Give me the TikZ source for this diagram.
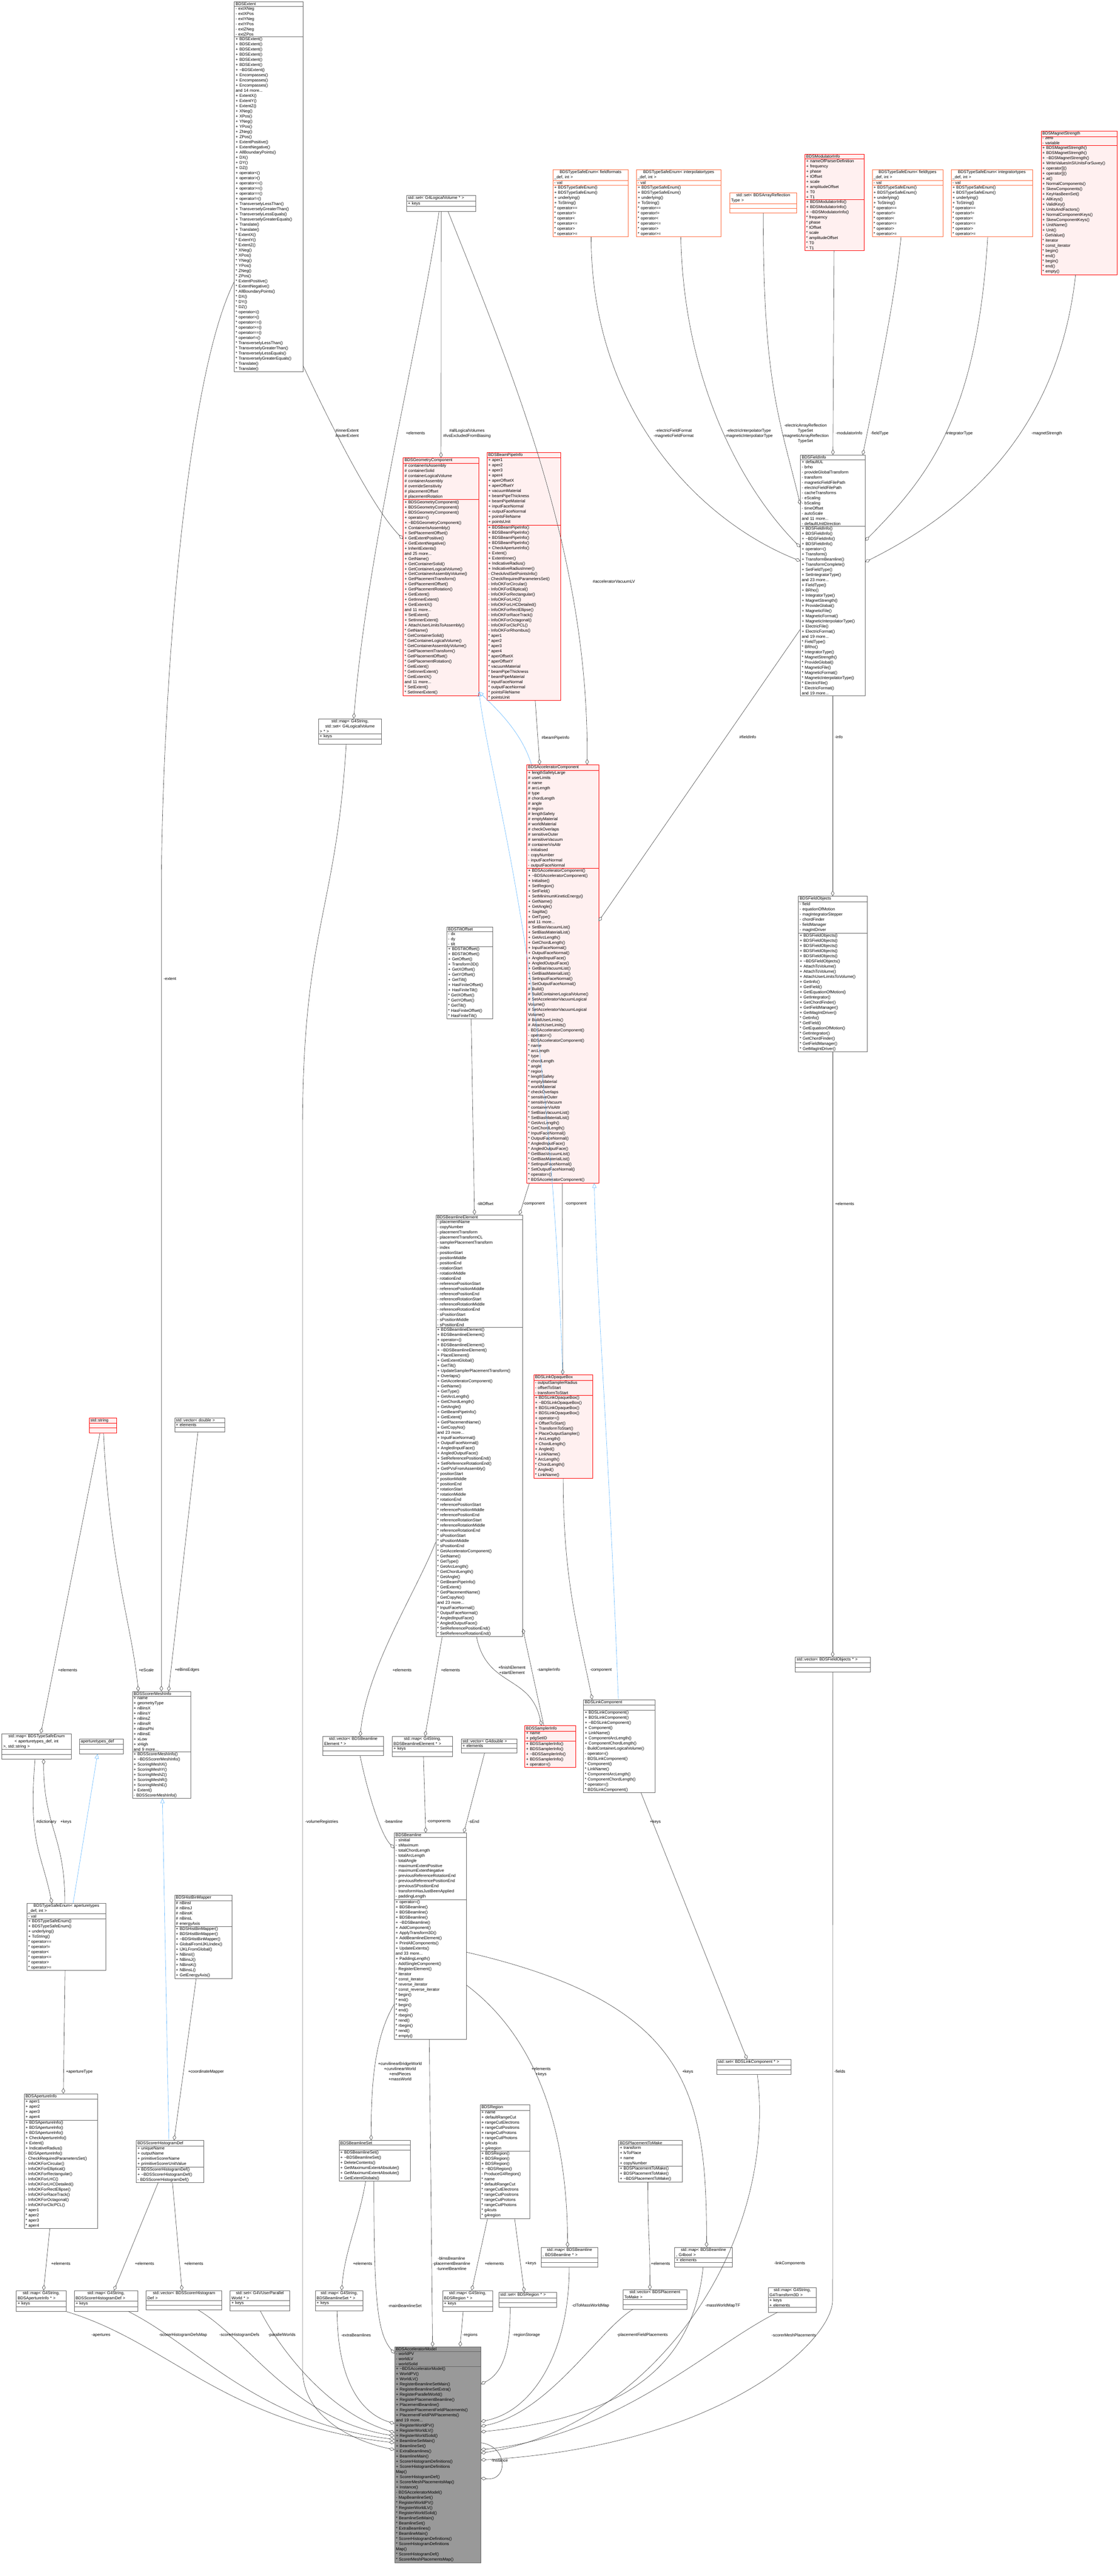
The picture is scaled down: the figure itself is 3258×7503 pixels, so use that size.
\documentclass[tikz,border=0pt]{standalone}
\usepackage{fontspec}
\setmainfont{Liberation Sans}
\usetikzlibrary{shapes.multipart,arrows.meta}
\definecolor{pinkfill}{HTML}{FFF0F0}
\definecolor{orangeb}{HTML}{FF6A3D}
\definecolor{inhblue}{HTML}{63B8FF}
\newcommand\umlfont{\fontsize{12}{15}\selectfont}
\newcommand\umlcls[7]{\node[#1, text width={#4pt-8pt}, anchor=north west] (#2) at (#3) {#5\nodepart{two}#6\nodepart{three}#7};}
\newcommand\emptyp{\rule{0pt}{9pt}}
\newcommand\enumm{+ BDSTypeSafeEnum()\\+ BDSTypeSafeEnum()\\+ underlying()\\+ ToString()\\{}* operator==\\{}* operator!=\\{}* operator<\\{}* operator<=\\{}* operator>\\{}* operator>=}
\newcommand\extm[1]{#1 ExtentX()\\#1 ExtentY()\\#1 ExtentZ()\\#1 XNeg()\\#1 XPos()\\#1 YNeg()\\#1 YPos()\\#1 ZNeg()\\#1 ZPos()\\#1 ExtentPositive()\\#1 ExtentNegative()\\#1 AllBoundaryPoints()\\#1 DX()\\#1 DY()\\#1 DZ()\\#1 operator<()\\#1 operator>()\\#1 operator<=()\\#1 operator>=()\\#1 operator==()\\#1 operator!=()\\#1 TransverselyLessThan()\\#1 TransverselyGreaterThan()\\#1 TransverselyLessEquals()\\#1 TransverselyGreaterEquals()\\#1 Translate()\\#1 Translate()}
\newcommand\geom[1]{#1 GetName()\\#1 GetContainerSolid()\\#1 GetContainerLogicalVolume()\\#1 GetContainerAssemblyVolume()\\#1 GetPlacementTransform()\\#1 GetPlacementOffset()\\#1 GetPlacementRotation()\\#1 GetExtent()\\#1 GetInnerExtent()\\#1 GetExtentX()\\and 11 more...\\#1 SetExtent()\\#1 SetInnerExtent()}
\newcommand\bpa[1]{#1 aper1\\#1 aper2\\#1 aper3\\#1 aper4\\#1 aperOffsetX\\#1 aperOffsetY\\#1 vacuumMaterial\\#1 beamPipeThickness\\#1 beamPipeMaterial\\#1 inputFaceNormal\\#1 outputFaceNormal\\#1 pointsFileName\\#1 pointsUnit}
\newcommand\accm[1]{#1 SetBiasVacuumList()\\#1 SetBiasMaterialList()\\#1 GetArcLength()\\#1 GetChordLength()\\#1 InputFaceNormal()\\#1 OutputFaceNormal()\\#1 AngledInputFace()\\#1 AngledOutputFace()\\#1 GetBiasVacuumList()\\#1 GetBiasMaterialList()\\#1 SetInputFaceNormal()\\#1 SetOutputFaceNormal()}
\newcommand\blea[1]{#1 positionStart\\#1 positionMiddle\\#1 positionEnd\\#1 rotationStart\\#1 rotationMiddle\\#1 rotationEnd\\#1 referencePositionStart\\#1 referencePositionMiddle\\#1 referencePositionEnd\\#1 referenceRotationStart\\#1 referenceRotationMiddle\\#1 referenceRotationEnd\\#1 sPositionStart\\#1 sPositionMiddle\\#1 sPositionEnd}
\newcommand\blem[1]{#1 GetAcceleratorComponent()\\#1 GetName()\\#1 GetType()\\#1 GetArcLength()\\#1 GetChordLength()\\#1 GetAngle()\\#1 GetBeamPipeInfo()\\#1 GetExtent()\\#1 GetPlacementName()\\#1 GetCopyNo()\\and 23 more...\\#1 InputFaceNormal()\\#1 OutputFaceNormal()\\#1 AngledInputFace()\\#1 AngledOutputFace()\\#1 SetReferencePositionEnd()\\#1 SetReferenceRotationEnd()}
\newcommand\fim[1]{#1 FieldType()\\#1 BRho()\\#1 IntegratorType()\\#1 MagnetStrength()\\#1 ProvideGlobal()\\#1 MagneticFile()\\#1 MagneticFormat()\\#1 MagneticInterpolatorType()\\#1 ElectricFile()\\#1 ElectricFormat()\\and 19 more...}
\newcommand\fom[1]{#1 GetInfo()\\#1 GetField()\\#1 GetEquationOfMotion()\\#1 GetIntegrator()\\#1 GetChordFinder()\\#1 GetFieldManager()\\#1 GetMagIntDriver()}
\newcommand\regm[1]{#1 name\\#1 defaultRangeCut\\#1 rangeCutElectrons\\#1 rangeCutPositrons\\#1 rangeCutProtons\\#1 rangeCutPhotons\\#1 g4cuts\\#1 g4region}
\newcommand\mdm[1]{#1 RegisterWorldPV()\\#1 RegisterWorldLV()\\#1 RegisterWorldSolid()\\#1 BeamlineSetMain()\\#1 BeamlineSet()\\#1 ExtraBeamlines()\\#1 BeamlineMain()\\#1 ScorerHistogramDefinitions()\\#1 ScorerHistogramDefinitions\\Map()\\#1 ScorerHistogramDef()\\#1 ScorerMeshPlacementsMap()}
\begin{document}
\begin{tikzpicture}[x=1pt,y=-1pt,
  cls/.style={rectangle split, rectangle split parts=3, draw=black!60, fill=white, align=left, inner xsep=4pt, inner ysep=2pt, font=\umlfont, line width=0.8pt},
  redcls/.style={cls, draw=red, fill=pinkfill},
  enumcls/.style={cls, draw=orangeb},
  modelcls/.style={cls, draw=black!60, fill=black!40},
  agg/.style={draw=black!75, line width=0.9pt, -{Diamond[open,length=16pt,width=10pt]}},
  inh/.style={draw=inhblue, line width=0.9pt, -{Triangle[open,length=14pt,width=12pt]}},
  lbl/.style={font=\umlfont, align=center, inner sep=0pt}]
\useasboundingbox[fill=white] (0,0) rectangle (3258,7503);

% ---------- classes ----------
\umlcls{cls}{ext}{682,5}{200}{\centering BDSExtent}{- extXNeg\\- extXPos\\- extYNeg\\- extYPos\\- extZNeg\\- extZPos}{+ BDSExtent()\\+ BDSExtent()\\+ BDSExtent()\\+ BDSExtent()\\+ BDSExtent()\\+ BDSExtent()\\+ \textasciitilde BDSExtent()\\+ Encompasses()\\+ Encompasses()\\+ Encompasses()\\and 14 more...\\\extm{+}\\\extm{{}*}}

\umlcls{cls}{setlv}{1184,569}{201}{\centering std::set< G4LogicalVolume * >}{+ keys}{\emptyp}

\umlcls{redcls}{geo}{1174,1333}{220}{\centering BDSGeometryComponent}{\# containerIsAssembly\\\# containerSolid\\\# containerLogicalVolume\\\# containerAssembly\\\# overrideSensitivity\\\# placementOffset\\\# placementRotation}{+ BDSGeometryComponent()\\+ BDSGeometryComponent()\\+ BDSGeometryComponent()\\+ operator=()\\+ \textasciitilde BDSGeometryComponent()\\+ ContainerIsAssembly()\\+ SetPlacementOffset()\\+ GetExtentPositive()\\+ GetExtentNegative()\\+ InheritExtents()\\and 25 more...\\\geom{+}\\+ AttachUserLimitsToAssembly()\\\geom{{}*}}

\umlcls{redcls}{bpi}{1418,1317}{215}{\centering BDSBeamPipeInfo}{\bpa{+}}{+ BDSBeamPipeInfo()\\+ BDSBeamPipeInfo()\\+ BDSBeamPipeInfo()\\+ BDSBeamPipeInfo()\\+ CheckApertureInfo()\\+ Extent()\\+ ExtentInner()\\+ IndicativeRadius()\\+ IndicativeRadiusInner()\\- CheckAndSetPointsInfo()\\- CheckRequiredParametersSet()\\- InfoOKForCircular()\\- InfoOKForElliptical()\\- InfoOKForRectangular()\\- InfoOKForLHC()\\- InfoOKForLHCDetailed()\\- InfoOKForRectEllipse()\\- InfoOKForRaceTrack()\\- InfoOKForOctagonal()\\- InfoOKForClicPCL()\\- InfoOKForRhombus()\\\bpa{{}*}}

\umlcls{cls}{mapsetlv}{927,2093}{184}{\centering std::map< G4String,\\ std::set< G4LogicalVolume\\ * > * >}{+ keys}{\emptyp}

\umlcls{redcls}{acc}{1534,2227}{209}{\centering BDSAcceleratorComponent}{+ lengthSafetyLarge\\\# userLimits\\\# name\\\# arcLength\\\# type\\\# chordLength\\\# angle\\\# region\\\# lengthSafety\\\# emptyMaterial\\\# worldMaterial\\\# checkOverlaps\\\# sensitiveOuter\\\# sensitiveVacuum\\\# containerVisAttr\\- initialised\\- copyNumber\\- inputFaceNormal\\- outputFaceNormal}{+ BDSAcceleratorComponent()\\+ \textasciitilde BDSAcceleratorComponent()\\+ Initialise()\\+ SetRegion()\\+ SetField()\\+ SetMinimumKineticEnergy()\\+ GetName()\\+ GetAngle()\\+ Sagitta()\\+ GetType()\\and 11 more...\\\accm{+}\\\# Build()\\\# BuildContainerLogicalVolume()\\\# SetAcceleratorVacuumLogical\\Volume()\\\# SetAcceleratorVacuumLogical\\Volume()\\\# BuildUserLimits()\\\# AttachUserLimits()\\- BDSAcceleratorComponent()\\- operator=()\\- BDSAcceleratorComponent()\\{}* name\\{}* arcLength\\{}* type\\{}* chordLength\\{}* angle\\{}* region\\{}* lengthSafety\\{}* emptyMaterial\\{}* worldMaterial\\{}* checkOverlaps\\{}* sensitiveOuter\\{}* sensitiveVacuum\\{}* containerVisAttr\\\accm{{}*}\\{}* operator=()\\{}* BDSAcceleratorComponent()}

\umlcls{enumcls}{eff}{1610,494}{219}{\centering BDSTypeSafeEnum< fieldformats\\\_def, int >}{- val}{\enumm}
\umlcls{enumcls}{eint}{1853,494}{247}{\centering BDSTypeSafeEnum< interpolatortypes\\\_def, int >}{- val}{\enumm}
\umlcls{enumcls}{sar}{2125,561}{195}{\centering std::set< BDSArrayReflection\\Type >}{\emptyp}{\emptyp}
\umlcls{redcls}{mod}{2344,448}{172}{\centering BDSModulatorInfo}{+ nameOfParserDefinition\\+ frequency\\+ phase\\+ tOffset\\+ scale\\+ amplitudeOffset\\+ T0\\+ T1}{+ BDSModulatorInfo()\\+ BDSModulatorInfo()\\+ \textasciitilde BDSModulatorInfo()\\{}* frequency\\{}* phase\\{}* tOffset\\{}* scale\\{}* amplitudeOffset\\{}* T0\\{}* T1}
\umlcls{enumcls}{eft}{2540,494}{206}{\centering BDSTypeSafeEnum< fieldtypes\\\_def, int >}{- val}{\enumm}
\umlcls{enumcls}{eit}{2770,494}{237}{\centering BDSTypeSafeEnum< integratortypes\\\_def, int >}{- val}{\enumm}
\umlcls{redcls}{mag}{3032,381}{221}{\centering BDSMagnetStrength}{- zero\\- variable}{+ BDSMagnetStrength()\\+ BDSMagnetStrength()\\+ \textasciitilde BDSMagnetStrength()\\+ WriteValuesInSIUnitsForSuvey()\\+ operator[]()\\+ operator[]()\\+ at()\\+ NormalComponents()\\+ SkewComponents()\\+ KeyHasBeenSet()\\+ AllKeys()\\+ ValidKey()\\+ UnitsAndFactors()\\+ NormalComponentKeys()\\+ SkewComponentKeys()\\+ UnitName()\\+ Unit()\\- GetValue()\\{}* iterator\\{}* const\_iterator\\{}* begin()\\{}* end()\\{}* begin()\\{}* end()\\{}* empty()}

\umlcls{cls}{fi}{2331,1325}{188}{\centering BDSFieldInfo}{+ defaultUL\\- brho\\- provideGlobalTransform\\- transform\\- magneticFieldFilePath\\- electricFieldFilePath\\- cacheTransforms\\- eScaling\\- bScaling\\- timeOffset\\- autoScale\\and 11 more...\\- defaultUnitDirection}{+ BDSFieldInfo()\\+ BDSFieldInfo()\\+ \textasciitilde BDSFieldInfo()\\+ BDSFieldInfo()\\+ operator=()\\+ Transform()\\+ TransformBeamline()\\+ TransformComplete()\\+ SetFieldType()\\+ SetIntegratorType()\\and 23 more...\\\fim{+}\\\fim{{}*}}

\umlcls{cls}{fo}{2325,2610}{200}{\centering BDSFieldObjects}{- field\\- equationOfMotion\\- magIntegratorStepper\\- chordFinder\\- fieldManager\\- magIntDriver}{+ BDSFieldObjects()\\+ BDSFieldObjects()\\+ BDSFieldObjects()\\+ BDSFieldObjects()\\+ BDSFieldObjects()\\+ \textasciitilde BDSFieldObjects()\\+ AttachToVolume()\\+ AttachToVolume()\\+ AttachUserLimitsToVolume()\\\fom{+}\\\fom{{}*}}

\umlcls{cls}{vfo}{2316,4826}{218}{\centering std::vector< BDSFieldObjects * >}{\emptyp}{\emptyp}

\umlcls{cls}{tilt}{1301,2699}{134}{\centering BDSTiltOffset}{- dx\\- dy\\- tilt}{+ BDSTiltOffset()\\+ BDSTiltOffset()\\+ GetOffset()\\+ Transform3D()\\+ GetXOffset()\\+ GetYOffset()\\+ GetTilt()\\+ HasFiniteOffset()\\+ HasFiniteTilt()\\{}* GetXOffset()\\{}* GetYOffset()\\{}* GetTilt()\\{}* HasFiniteOffset()\\{}* HasFiniteTilt()}

\umlcls{cls}{ble}{1269,3538}{253}{\centering BDSBeamlineElement}{- placementName\\- copyNumber\\- placementTransform\\- placementTransformCL\\- samplerPlacementTransform\\- index\\\blea{-}}{+ BDSBeamlineElement()\\+ BDSBeamlineElement()\\+ operator=()\\+ BDSBeamlineElement()\\+ \textasciitilde BDSBeamlineElement()\\+ PlaceElement()\\+ GetExtentGlobal()\\+ GetTilt()\\+ UpdateSamplerPlacementTransform()\\+ Overlaps()\\\blem{+}\\+ GetPVsFromAssembly()\\\blea{{}*}\\\blem{{}*}}

\umlcls{redcls}{lob}{1554,4004}{172}{\centering BDSLinkOpaqueBox}{- outputSamplerRadius\\- offsetToStart\\- transformToStart}{+ BDSLinkOpaqueBox()\\+ \textasciitilde BDSLinkOpaqueBox()\\+ BDSLinkOpaqueBox()\\+ BDSLinkOpaqueBox()\\+ operator=()\\+ OffsetToStart()\\+ TransformToStart()\\+ PlaceOutputSampler()\\+ ArcLength()\\+ ChordLength()\\+ Angled()\\+ LinkName()\\{}* ArcLength()\\{}* ChordLength()\\{}* Angled()\\{}* LinkName()}

\umlcls{cls}{lc}{1699,4950}{208}{\centering BDSLinkComponent}{\emptyp}{+ BDSLinkComponent()\\+ BDSLinkComponent()\\+ \textasciitilde BDSLinkComponent()\\+ Component()\\+ LinkName()\\+ ComponentArcLength()\\+ ComponentChordLength()\\- BuildContainerLogicalVolume()\\- operator=()\\- BDSLinkComponent()\\{}* Component()\\{}* LinkName()\\{}* ComponentArcLength()\\{}* ComponentChordLength()\\{}* operator=()\\{}* BDSLinkComponent()}

\umlcls{redcls}{si}{1528,5026}{148}{\centering BDSSamplerInfo}{+ name\\+ pdgSetID}{+ BDSSamplerInfo()\\+ BDSSamplerInfo()\\+ \textasciitilde BDSSamplerInfo()\\+ BDSSamplerInfo()\\+ operator=()}

\umlcls{redcls}{str}{259,4129}{80}{\centering std::string}{\emptyp}{\emptyp}
\umlcls{cls}{vdbl}{508,4129}{146}{\centering std::vector< double >}{+ elements}{\emptyp}
\umlcls{cls}{smi}{385,4926}{170}{\centering BDSScorerMeshInfo}{+ name\\+ geometryType\\+ nBinsX\\+ nBinsY\\+ nBinsZ\\+ nBinsR\\+ nBinsPhi\\+ nBinsE\\+ xLow\\+ xHigh\\and 9 more...}{+ BDSScorerMeshInfo()\\+ \textasciitilde BDSScorerMeshInfo()\\+ ScoringMeshX()\\+ ScoringMeshY()\\+ ScoringMeshZ()\\+ ScoringMeshR()\\+ ScoringMeshE()\\+ Extent()\\- BDSScorerMeshInfo()}

\umlcls{cls}{mapap}{5,5049}{202}{\centering std::map< BDSTypeSafeEnum\\< aperturetypes\_def, int\\ >, std::string >}{\emptyp}{\emptyp}
\umlcls{cls}{apdef}{231,5064}{127}{\centering aperturetypes\_def}{\emptyp}{\emptyp}
\umlcls{cls}{eap}{78,5543}{230}{\centering BDSTypeSafeEnum< aperturetypes\\\_def, int >}{- val}{\enumm}
\umlcls{cls}{api}{70,6098}{214}{\centering BDSApertureInfo}{+ aper1\\+ aper2\\+ aper3\\+ aper4}{+ BDSApertureInfo()\\+ BDSApertureInfo()\\+ BDSApertureInfo()\\+ CheckApertureInfo()\\+ Extent()\\+ IndicativeRadius()\\- BDSApertureInfo()\\- CheckRequiredParametersSet()\\- InfoOKForCircular()\\- InfoOKForElliptical()\\- InfoOKForRectangular()\\- InfoOKForLHC()\\- InfoOKForLHCDetailed()\\- InfoOKForRectEllipse()\\- InfoOKForRaceTrack()\\- InfoOKForOctagonal()\\- InfoOKForClicPCL()\\{}* aper1\\{}* aper2\\{}* aper3\\{}* aper4}
\umlcls{cls}{hbm}{508,5519}{168}{\centering BDSHistBinMapper}{\# nBinsI\\\# nBinsJ\\\# nBinsK\\\# nBinsL\\\# energyAxis}{+ BDSHistBinMapper()\\+ BDSHistBinMapper()\\+ \textasciitilde BDSHistBinMapper()\\+ GlobalFromIJKLIndex()\\+ IJKLFromGlobal()\\+ NBinsI()\\+ NBinsJ()\\+ NBinsK()\\+ NBinsL()\\+ GetEnergyAxis()}
\umlcls{cls}{shd}{396,6234}{196}{\centering BDSScorerHistogramDef}{+ uniqueName\\+ outputName\\+ primitiveScorerName\\+ primitiveScorerUnitValue}{+ BDSScorerHistogramDef()\\+ \textasciitilde BDSScorerHistogramDef()\\- BDSScorerHistogramDef()}

\umlcls{cls}{mapapi}{47,6671}{145}{\centering std::map< G4String,\\ BDSApertureInfo * >}{+ keys}{\emptyp}
\umlcls{cls}{mapshd}{216,6671}{185}{\centering std::map< G4String,\\ BDSScorerHistogramDef >}{+ keys}{\emptyp}
\umlcls{cls}{vshd}{425,6671}{221}{\centering std::vector< BDSScorerHistogram\\Def >}{\emptyp}{\emptyp}
\umlcls{cls}{spw}{670,6671}{173}{\centering std::set< G4VUserParallel\\World * >}{+ keys}{\emptyp}
\umlcls{cls}{mapbls}{918,6671}{139}{\centering std::map< G4String,\\ BDSBeamlineSet * >}{+ keys}{\emptyp}
\umlcls{cls}{bls}{987,6234}{208}{\centering BDSBeamlineSet}{\emptyp}{+ BDSBeamlineSet()\\+ \textasciitilde BDSBeamlineSet()\\+ DeleteContents()\\+ GetMaximumExtentAbsolute()\\+ GetMaximumExtentAbsolute()\\+ GetExtentGlobals()}
\umlcls{cls}{vble}{940,5057}{177}{\centering std::vector< BDSBeamline\\Element * >}{\emptyp}{\emptyp}
\umlcls{cls}{mapble}{1142,5057}{176}{\centering std::map< G4String,\\ BDSBeamlineElement * >}{+ keys}{\emptyp}
\umlcls{cls}{vg4d}{1343,5064}{162}{\centering std::vector< G4double >}{+ elements}{\emptyp}
\umlcls{cls}{bl}{1148,5338}{210}{\centering BDSBeamline}{- sInitial\\- sMaximum\\- totalChordLength\\- totalArcLength\\- totalAngle\\- maximumExtentPositive\\- maximumExtentNegative\\- previousReferenceRotationEnd\\- previousReferencePositionEnd\\- previousSPositionEnd\\- transformHasJustBeenApplied\\- paddingLength}{+ operator=()\\+ BDSBeamline()\\+ BDSBeamline()\\+ BDSBeamline()\\+ \textasciitilde BDSBeamline()\\+ AddComponent()\\+ ApplyTransform3D()\\+ AddBeamlineElement()\\+ PrintAllComponents()\\+ UpdateExtents()\\and 33 more...\\+ PaddingLength()\\- AddSingleComponent()\\- RegisterElement()\\{}* iterator\\{}* const\_iterator\\{}* reverse\_iterator\\{}* const\_reverse\_iterator\\{}* begin()\\{}* end()\\{}* begin()\\{}* end()\\{}* rbegin()\\{}* rend()\\{}* rbegin()\\{}* rend()\\{}* empty()}
\umlcls{cls}{reg}{1398,6130}{144}{\centering BDSRegion}{\regm{+}}{+ BDSRegion()\\+ BDSRegion()\\+ BDSRegion()\\+ \textasciitilde BDSRegion()\\- ProduceG4Region()\\\regm{{}*}}
\umlcls{cls}{mapreg}{1289,6671}{145}{\centering std::map< G4String,\\ BDSRegion * >}{+ keys}{\emptyp}
\umlcls{cls}{sreg}{1453,6676}{168}{\centering std::set< BDSRegion * >}{\emptyp}{\emptyp}
\umlcls{cls}{mapblbl}{1576,6545}{165}{\centering std::map< BDSBeamline\\ *, BDSBeamline * >}{\emptyp}{\emptyp}
\umlcls{cls}{mapblb}{1965,6545}{167}{\centering std::map< BDSBeamline\\ *, G4bool >}{+ elements}{\emptyp}
\umlcls{cls}{ptm}{1801,6234}{186}{\centering BDSPlacementToMake}{+ transform\\+ lvToPlace\\+ name\\+ copyNumber}{+ BDSPlacementToMake()\\+ BDSPlacementToMake()\\+ \textasciitilde BDSPlacementToMake()}
\umlcls{cls}{vptm}{1814,6669}{186}{\centering std::vector< BDSPlacement\\ToMake >}{\emptyp}{\emptyp}
\umlcls{cls}{slc}{2087,5998}{217}{\centering std::set< BDSLinkComponent * >}{\emptyp}{\emptyp}
\umlcls{cls}{mapt3d}{2237,6663}{140}{\centering std::map< G4String,\\ G4Transform3D >}{+ keys\\+ elements}{\emptyp}

\umlcls{modelcls}{model}{1149,6835}{251}{\centering BDSAcceleratorModel}{- worldPV\\- worldLV\\- worldSolid}{+ \textasciitilde BDSAcceleratorModel()\\+ WorldPV()\\+ WorldLV()\\+ RegisterBeamlineSetMain()\\+ RegisterBeamlineSetExtra()\\+ RegisterParallelWorld()\\+ RegisterPlacementBeamline()\\+ PlacementBeamline()\\+ RegisterPlacementFieldPlacements()\\+ PlacementFieldPWPlacements()\\and 19 more...\\\mdm{+}\\+ Instance()\\- BDSAcceleratorModel()\\- MapBeamlineSet()\\\mdm{{}*}}

% ---------- connectors ----------
\draw[agg] ([yshift=-1060pt]ext.north east) .. controls +(70,150) and +(-90,-90) .. ([yshift=-237pt]geo.north west);
\draw[agg] (setlv.south) -- (geo.north);
\draw[agg] ([xshift=-6pt]setlv.south) .. controls +(-60,400) and +(40,-500) .. ([xshift=11pt]mapsetlv.north);
\draw[agg] ([xshift=20pt]setlv.south) .. controls +(200,500) and +(5,-600) .. ([xshift=176pt]acc.north west);
\draw[inh] ([xshift=14pt]acc.north west) .. controls +(-30,-100) and +(40,40) .. ([yshift=12pt]geo.south east);
\draw[inh] ([xshift=85pt]lob.north west) .. controls +(-40,-1200) and +(40,300) .. ([yshift=12pt]geo.south east);
\draw[agg] ([xshift=33pt]bpi.south) -- ([xshift=38pt]acc.north west);
\draw[agg] ([xshift=2pt]eff.south) .. controls +(0,500) and +(-300,-120) .. ([yshift=-309pt]fi.north west);
\draw[agg] ([xshift=6pt]eint.south) .. controls +(10,450) and +(-150,-150) .. ([yshift=-269pt]fi.north west);
\draw[agg] (sar.south) .. controls +(0,500) and +(-60,-250) .. ([yshift=-145pt]fi.north west);
\draw[agg] ([xshift=-1pt]mod.south) -- ([xshift=95pt]fi.north west);
\draw[agg] ([xshift=-19pt]eft.south) .. controls +(-20,200) and +(40,-200) .. ([xshift=182pt]fi.north west);
\draw[agg] ([xshift=-12pt]eit.south) .. controls +(-30,500) and +(200,-200) .. ([yshift=-250pt]fi.north east);
\draw[agg] ([xshift=-10pt]mag.south) .. controls +(-50,450) and +(300,-150) .. ([yshift=-312pt]fi.north east);
\draw[agg] ([yshift=-508pt]fi.north west) -- ([yshift=-456pt]acc.north east);
\draw[agg] (fi.south) -- (fo.north);
\draw[agg] (fo.south) -- (vfo.north);
\coordinate (fb) at (2425,6700);
\draw[agg] (vfo.south) -- (fb) .. controls +(0,120) and +(700,-40) .. ([yshift=-330pt]model.north east);
\draw[agg] ([xshift=4pt]tilt.south) -- ([xshift=113pt]ble.north west);
\draw[agg] ([xshift=8pt]acc.south west) -- ([xshift=244pt]ble.north west);
\draw[agg] ([xshift=104pt]acc.south west) -- ([xshift=85pt]lob.north west);
\draw[inh] ([xshift=102pt]lc.north west) .. controls +(-30,-800) and +(10,400) .. ([xshift=-13pt]acc.south east);
\draw[agg] (lob.south) .. controls +(0,300) and +(-40,-200) .. ([xshift=26pt]lc.north west);
\draw[agg] ([xshift=-8pt]ble.south) .. controls +(30,150) and +(-30,-150) .. ([xshift=49pt]si.north west);
\draw[agg] ([xshift=56pt]si.north west) -- ([yshift=-1206pt]ble.north east);
\draw[agg] ([xshift=168pt]lc.south west) -- ([xshift=89pt]slc.north west);
\draw[agg] ([xshift=10pt]slc.south) .. controls +(60,500) and +(500,-80) .. ([yshift=-310pt]model.north east);
\draw[agg] ([yshift=-954pt]ble.north west) .. controls +(-60,150) and +(20,-200) .. ([xshift=109pt]vble.north west);
\draw[agg] ([xshift=19pt]ble.south west) -- ([xshift=96pt]mapble.north west);
\draw[agg] ([xshift=20pt]vble.south) .. controls +(20,100) and +(-40,-40) .. ([yshift=-45pt]bl.north west);
\draw[agg] ([xshift=3pt]mapble.south) -- ([xshift=92pt]bl.north west);
\draw[agg] ([xshift=-13pt]vg4d.south) -- ([xshift=203pt]bl.north west);
\draw[agg] ([yshift=-500pt]bl.north west) .. controls +(-60,100) and +(0,-150) .. ([xshift=94pt]bls.north west);
\draw[agg] ([xshift=78pt]bls.south west) .. controls +(-20,120) and +(10,-120) .. ([xshift=77pt]mapbls.north west);
\draw[agg] ([xshift=102pt]bls.south west) .. controls +(0,350) and +(-50,-60) .. ([yshift=-20pt]model.north west);
\draw[agg] ([xshift=64pt]mapbls.south west) .. controls +(0,200) and +(-100,-30) .. ([yshift=-224pt]model.north west);
\draw[agg] ([xshift=-3pt]bl.south) -- ([xshift=111pt]model.north west);
\draw[agg] ([yshift=-444pt]bl.north east) .. controls +(200,150) and +(0,-350) .. ([xshift=77pt]mapblbl.north west);
\draw[agg] ([yshift=-348pt]bl.north east) .. controls +(650,150) and +(0,-450) .. ([xshift=93pt]mapblb.north west);
\draw[agg] ([xshift=22pt]reg.south west) -- ([xshift=85pt]mapreg.north west);
\draw[agg] ([xshift=101pt]reg.south west) -- ([xshift=74pt]sreg.north west);
\draw[agg] ([xshift=60pt]mapreg.south west) -- ([xshift=191pt]model.north west);
\draw[agg] ([xshift=33pt]sreg.south west) .. controls +(0,80) and +(80,-40) .. ([yshift=-109pt]model.north east);
\draw[agg] ([xshift=82pt]mapblbl.south west) .. controls +(0,250) and +(150,-30) .. ([yshift=-218pt]model.north east);
\draw[agg] ([xshift=83pt]mapblb.south west) .. controls +(-30,300) and +(400,-40) .. ([yshift=-248pt]model.north east);
\draw[agg] ([xshift=30pt]vptm.south west) .. controls +(-100,60) and +(200,-40) .. ([yshift=-232pt]model.north east);
\draw[agg] ([xshift=28pt]mapt3d.south west) .. controls +(-200,100) and +(400,-40) .. ([yshift=-300pt]model.north east);
\draw[agg] ([xshift=86pt]ptm.south west) .. controls +(0,150) and +(0,-150) .. ([xshift=79pt]vptm.north west);
\coordinate (vr1) at (881,3300);
\coordinate (vr2) at (881,6900);
\draw[agg] ([xshift=-11pt]mapsetlv.south) .. controls +(-30,500) and +(0,-600) .. (vr1) -- (vr2) .. controls +(0,150) and +(-100,-20) .. ([yshift=-300pt]model.north west);
\coordinate (ex1) at (470,2600);
\draw[agg] ([yshift=-816pt]ext.north west) .. controls +(-150,300) and +(0,-500) .. (ex1) -- ([xshift=85pt]smi.north west);
\draw[agg] ([xshift=2pt]str.south) .. controls +(20,400) and +(-20,-200) .. ([xshift=18pt]smi.north west);
\draw[agg] ([xshift=-8pt]str.south) -- ([xshift=114pt]mapap.north west);
\draw[agg] ([xshift=-5pt]vdbl.south) -- ([xshift=106pt]smi.north west);
\draw[agg] ([xshift=97pt]mapap.south west) .. controls +(-20,250) and +(-30,-150) .. ([xshift=73pt]eap.north west);
\draw[agg] ([xshift=111pt]eap.north west) .. controls +(0,-200) and +(0,200) .. ([xshift=122pt]mapap.south west);
\draw[inh] ([xshift=135pt]eap.north west) -- ([xshift=53pt]apdef.south west);
\draw[agg] ([xshift=-4pt]eap.south) -- ([xshift=7pt]api.north);
\draw[agg] ([xshift=75pt]api.south west) -- ([xshift=80pt]mapapi.north west);
\draw[agg] (mapapi.south east) .. controls +(300,90) and +(-500,-60) .. ([yshift=-280pt]model.north west);
\draw[inh] ([xshift=96pt]shd.north west) -- ([xshift=88pt]smi.south west);
\draw[agg] ([xshift=-21pt]hbm.south) -- ([xshift=111pt]shd.north west);
\draw[agg] ([xshift=-34pt]shd.south) -- ([xshift=116pt]mapshd.north west);
\draw[agg] ([xshift=8pt]shd.south) -- ([xshift=105pt]vshd.north west);
\draw[agg] ([xshift=158pt]mapshd.south west) .. controls +(200,100) and +(-400,-50) .. ([yshift=-270pt]model.north west);
\draw[agg] ([xshift=152pt]vshd.south west) .. controls +(150,90) and +(-300,-50) .. ([yshift=-260pt]model.north west);
\draw[agg] ([xshift=88pt]spw.south west) .. controls +(50,100) and +(-200,-60) .. ([yshift=-250pt]model.north west);
\draw[agg] ([yshift=-280pt]model.north east) .. controls +(80,10) and +(80,10) .. ([yshift=-383pt]model.north east);

% ---------- labels ----------
\node[lbl] (l1) at (1011,1262) {\#innerExtent\\\#outerExtent};
\node[lbl] (l2) at (1210,1262) {+elements};
\node[lbl] (l3) at (1360,1262) {\#allLogicalVolumes\\\#lvsExcludedFromBiasing};
\node[lbl] (l4) at (1618,2149) {\#beamPipeInfo};
\node[lbl] (l5) at (1962,1262) {-electricFieldFormat\\-magneticFieldFormat};
\node[lbl] (l6) at (2181,1262) {-electricInterpolatorType\\-magneticInterpolatorType};
\node[lbl] (l7) at (2346,1262) {-electricArrayReflection\\TypeSet\\-magneticArrayReflection\\TypeSet};
\node[lbl] (l8) at (2473,1262) {-modulatorInfo};
\node[lbl] (l9) at (2562,1262) {-fieldType};
\node[lbl] (l10) at (2793,1262) {-integratorType};
\node[lbl] (l11) at (3049,1262) {-magnetStrength};
\node[lbl] (l12) at (1788,1693) {\#acceleratorVacuumLV};
\node[lbl] (l13) at (2178,2147) {\#fieldInfo};
\node[lbl] (l14) at (2443,2147) {-info};
\node[lbl] (l15) at (1677,3506) {-component};
\node[lbl] (l16) at (2460,3506) {+elements};
\node[lbl] (l17) at (1750,4864) {-component};
\node[lbl] (l18) at (495,2851) {-extent};
\node[lbl] (l19) at (1413,3506) {-tiltOffset};
\node[lbl] (l20) at (1555,3506) {-component};
\node[lbl] (l21) at (197,4864) {+elements};
\node[lbl] (l22) at (426,4864) {+eScale};
\node[lbl] (l23) at (545,4864) {+eBinsEdges};
\node[lbl] (l24) at (1171,4864) {+elements};
\node[lbl] (l25) at (1312,4864) {+elements};
\node[lbl] (l26) at (1491,4864) {+finishElement\\+startElement};
\node[lbl] (l27) at (1598,4864) {-samplerInfo};
\node[lbl] (l28) at (135,5306) {\#dictionary};
\node[lbl] (l29) at (192,5306) {+keys};
\node[lbl] (l30) at (231,6034) {+apertureType};
\node[lbl] (l31) at (600,6034) {+coordinateMapper};
\node[lbl] (l32) at (937,5306) {-volumeRegistries};
\node[lbl] (l33) at (1146,5306) {-beamline};
\node[lbl] (l34) at (1278,5306) {-components};
\node[lbl] (l35) at (1380,5306) {-sEnd};
\node[lbl] (l36) at (1165,6034) {+curvilinearBridgeWorld\\+curvilinearWorld\\+endPieces\\+massWorld};
\node[lbl] (l37) at (1576,6034) {+elements\\+keys};
\node[lbl] (l38) at (177,6593) {+elements};
\node[lbl] (l39) at (421,6593) {+elements};
\node[lbl] (l40) at (564,6593) {+elements};
\node[lbl] (l41) at (1056,6593) {+elements};
\node[lbl] (l42) at (1315,6593) {-blmsBeamline\\-placementBeamline\\-tunnelBeamline};
\node[lbl] (l43) at (1440,6593) {+elements};
\node[lbl] (l44) at (1546,6593) {+keys};
\node[lbl] (l45) at (1179,6716) {-mainBeamlineSet};
\node[lbl] (l46) at (294,6802) {-apertures};
\node[lbl] (l47) at (533,6802) {-scorerHistogramDefsMap};
\node[lbl] (l48) at (697,6802) {-scorerHistogramDefs};
\node[lbl] (l49) at (821,6802) {-parallelWorlds};
\node[lbl] (l50) at (1037,6802) {-extraBeamlines};
\node[lbl] (l51) at (1369,6802) {-regions};
\node[lbl] (l52) at (1533,6802) {-regionStorage};
\node[lbl] (l53) at (1455,7166) {-instance};
\node[lbl] (l54) at (1909,5306) {+keys};
\node[lbl] (l55) at (2003,6034) {+keys};
\node[lbl] (l56) at (2446,6034) {-fields};
\node[lbl] (l57) at (1924,6593) {+elements};
\node[lbl] (l58) at (2300,6593) {-linkComponents};
\node[lbl] (l59) at (1720,6716) {-clToMassWorldMap};
\node[lbl] (l60) at (2105,6716) {-massWorldMapTF};
\node[lbl] (l61) at (1871,6802) {-placementFieldPlacements};
\node[lbl] (l62) at (2312,6802) {-scorerMeshPlacements};
\end{tikzpicture}
\end{document}
